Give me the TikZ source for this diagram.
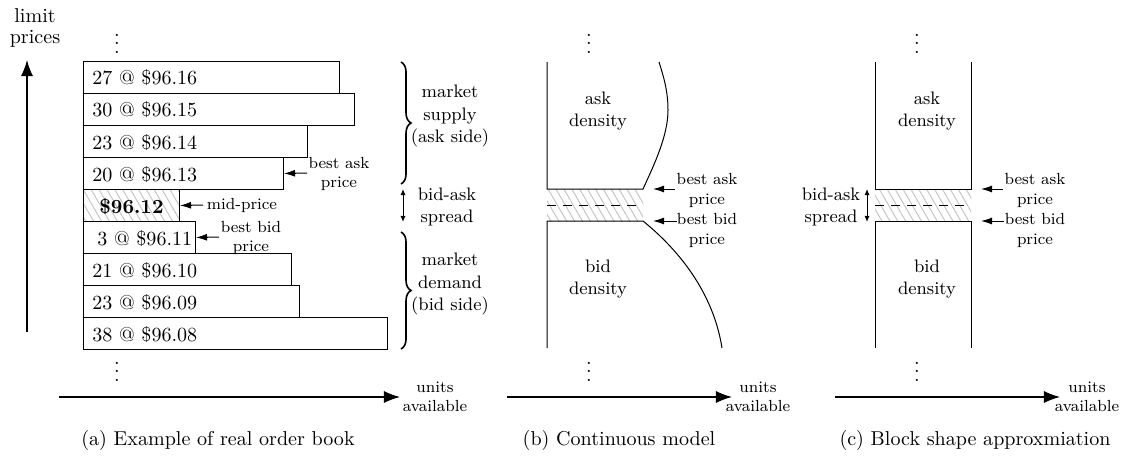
\documentclass[tikz,border=0pt]{standalone}
\usetikzlibrary{arrows.meta,patterns,patterns.meta,decorations.pathreplacing}
\def\pxu{0.0175cm}
\begin{document}
\begin{tikzpicture}[x=\pxu, y=-\pxu,
  rowbox/.style={draw, line width=0.5pt, minimum height=32*\pxu, inner sep=0pt, anchor=north west},
  rowtext/.style={inner sep=0pt, anchor=base west, font=\normalsize},
  ptr/.style={-{Latex[length=5.5pt,width=3.5pt]}, line width=0.5pt},
  spreadarrow/.style={{Latex[length=3pt,width=2.5pt]}-{Latex[length=3pt,width=2.5pt]}, line width=0.5pt},
  axis/.style={-{Latex[length=8pt,width=6pt]}, line width=0.6pt},
  smalllabel/.style={font=\footnotesize, align=center, inner sep=0pt},
  sidelabel/.style={font=\small, align=center, inner sep=0pt},
  caption/.style={font=\normalsize, inner sep=0pt},
  bracestyle/.style={decorate, decoration={brace, amplitude=5pt}, line width=0.8pt},
  hatch/.style={pattern={Lines[angle=-60, distance=3.4pt, line width=0.5pt]}, pattern color=gray!45},
  outline/.style={line width=0.5pt},
  dotsnode/.style={anchor=base, inner sep=0pt}
]
\useasboundingbox (0,0) rectangle (1125,455);

% ---------------- panel (a) ----------------
\node[font=\normalsize, align=center, inner sep=0pt] (lp) at (35,28) {limit\\[-2pt]prices};
\coordinate (ay0) at (27,332);
\coordinate (ay1) at (27,60);
\draw[axis] (ay0) -- (ay1);

\node[dotsnode] (dA1) at (117,53) {$\vdots$};
\node[dotsnode] (dA2) at (117,381) {$\vdots$};

\node[rowbox, minimum width=256*\pxu] (r1) at (83,61) {};
\node[rowbox, minimum width=271*\pxu] (r2) at (83,93) {};
\node[rowbox, minimum width=224*\pxu] (r3) at (83,125) {};
\node[rowbox, minimum width=200*\pxu] (r4) at (83,157) {};
\node[rowbox, hatch, minimum width=96*\pxu] (r5) at (83,189) {};
\node[rowbox, minimum width=112*\pxu] (r6) at (83,221) {};
\node[rowbox, minimum width=208*\pxu] (r7) at (83,253) {};
\node[rowbox, minimum width=216*\pxu] (r8) at (83,285) {};
\node[rowbox, minimum width=304*\pxu] (r9) at (83,317) {};

\node[rowtext] (t1) at ([xshift=0.1575cm,yshift=-0.42cm]r1.north west) {27 @ \$96.16};
\node[rowtext] (t2) at ([xshift=0.1575cm,yshift=-0.42cm]r2.north west) {30 @ \$96.15};
\node[rowtext] (t3) at ([xshift=0.1575cm,yshift=-0.42cm]r3.north west) {23 @ \$96.14};
\node[rowtext] (t4) at ([xshift=0.1575cm,yshift=-0.42cm]r4.north west) {20 @ \$96.13};
\node[inner sep=0pt, anchor=base] (t5) at ([yshift=-0.42cm]r5.north) {\textbf{\$96.12}};
\node[rowtext] (t6) at ([xshift=0.245cm,yshift=-0.42cm]r6.north west) {3 @ \$96.11};
\node[rowtext] (t7) at ([xshift=0.1575cm,yshift=-0.42cm]r7.north west) {21 @ \$96.10};
\node[rowtext] (t8) at ([xshift=0.1575cm,yshift=-0.42cm]r8.north west) {23 @ \$96.09};
\node[rowtext] (t9) at ([xshift=0.1575cm,yshift=-0.42cm]r9.north west) {38 @ \$96.08};

\node[smalllabel] (lba) at (339,174) {best ask\\price};
\coordinate (lbaT) at (307,173);
\draw[ptr] (lbaT) -- (r4.east);
\node[smalllabel] (lmid) at (242,205) {mid-price};
\coordinate (lmidT) at (203,205);
\draw[ptr] (lmidT) -- (r5.east);
\node[smalllabel] (lbb) at (251,238) {best bid\\price};
\coordinate (lbbT) at (219,237);
\draw[ptr] (lbbT) -- (r6.east);

\coordinate (bA1) at (401,62);
\coordinate (bA2) at (401,184);
\draw[bracestyle] (bA1) -- (bA2);
\node[sidelabel] (lsup) at (450,116) {market\\supply\\(ask side)};
\coordinate (spA1) at (403,189);
\coordinate (spA2) at (403,222);
\draw[spreadarrow] (spA1) -- (spA2);
\node[sidelabel] (lspA) at (447,207) {bid-ask\\spread};
\coordinate (bB1) at (401,232);
\coordinate (bB2) at (401,349);
\draw[bracestyle] (bB1) -- (bB2);
\node[sidelabel] (ldem) at (450,284) {market\\demand\\(bid side)};

\coordinate (axA0) at (59,397);
\coordinate (axA1) at (400,397);
\draw[axis] (axA0) -- (axA1);
\node[smalllabel] (luA) at (435,397) {units\\available};
\node[caption] (capA) at (218,440) {(a) Example of real order book};

% ---------------- panel (b) ----------------
\node[dotsnode] (dB1) at (589,53) {$\vdots$};
\node[dotsnode] (dB2) at (589,381) {$\vdots$};
\coordinate (b1) at (547,189);
\coordinate (b2) at (643,221);
\fill[hatch] (b1) rectangle (b2);
\draw[dashed, dash pattern=on 4.5pt off 3.5pt, line width=0.5pt] (547,205) -- (638,205);
\draw[outline] (547,62) -- (b1) -- (643,189)
  .. controls (655,163) and (668,135) .. (668,110)
  .. controls (668,90) and (663,75) .. (659,62);
\draw[outline] (547,348) -- (547,221) -- (b2)
  .. controls (670,243) and (712,285) .. (722,348);
\node[sidelabel] (lad) at (598,111) {ask\\density};
\node[sidelabel] (lbd) at (598,279) {bid\\density};
\node[smalllabel] (lbaB) at (707,190.5) {best ask\\price};
\coordinate (baBT) at (675,189);
\coordinate (baBH) at (653,189);
\draw[ptr] (baBT) -- (baBH);
\node[smalllabel] (lbbB) at (707,230.5) {best bid\\price};
\coordinate (bbBT) at (677,221);
\coordinate (bbBH) at (653,221);
\draw[ptr] (bbBT) -- (bbBH);
\coordinate (axB0) at (507,397);
\coordinate (axB1) at (732,397);
\draw[axis] (axB0) -- (axB1);
\node[smalllabel] (luB) at (758,397) {units\\available};
\node[caption] (capB) at (619,440) {(b) Continuous model};

% ---------------- panel (c) ----------------
\node[dotsnode] (dC1) at (917,53) {$\vdots$};
\node[dotsnode] (dC2) at (917,381) {$\vdots$};
\coordinate (c1) at (875,189);
\coordinate (c2) at (971,221);
\fill[hatch] (c1) rectangle (c2);
\draw[dashed, dash pattern=on 4.5pt off 3.5pt, line width=0.5pt] (875,205) -- (971,205);
\draw[outline] (875,62) -- (c1) -- (971,189) -- (971,62);
\draw[outline] (875,348) -- (875,221) -- (c2) -- (971,348);
\node[sidelabel] (ladC) at (927,111) {ask\\density};
\node[sidelabel] (lbdC) at (927,279) {bid\\density};
\coordinate (spC1) at (867,189);
\coordinate (spC2) at (867,222);
\draw[spreadarrow] (spC1) -- (spC2);
\node[sidelabel] (lspC) at (831,207) {bid-ask\\spread};
\node[smalllabel] (lbaC) at (1035,190.5) {best ask\\price};
\coordinate (baCT) at (1003,189);
\coordinate (baCH) at (981,189);
\draw[ptr] (baCT) -- (baCH);
\node[smalllabel] (lbbC) at (1035,230.5) {best bid\\price};
\coordinate (bbCT) at (1004,221);
\coordinate (bbCH) at (981,221);
\draw[ptr] (bbCT) -- (bbCH);
\coordinate (axC0) at (835,397);
\coordinate (axC1) at (1060,397);
\draw[axis] (axC0) -- (axC1);
\node[smalllabel] (luC) at (1087,397) {units\\available};
\node[caption] (capC) at (975,440) {(c) Block shape approxmiation};
\end{tikzpicture}
\end{document}
